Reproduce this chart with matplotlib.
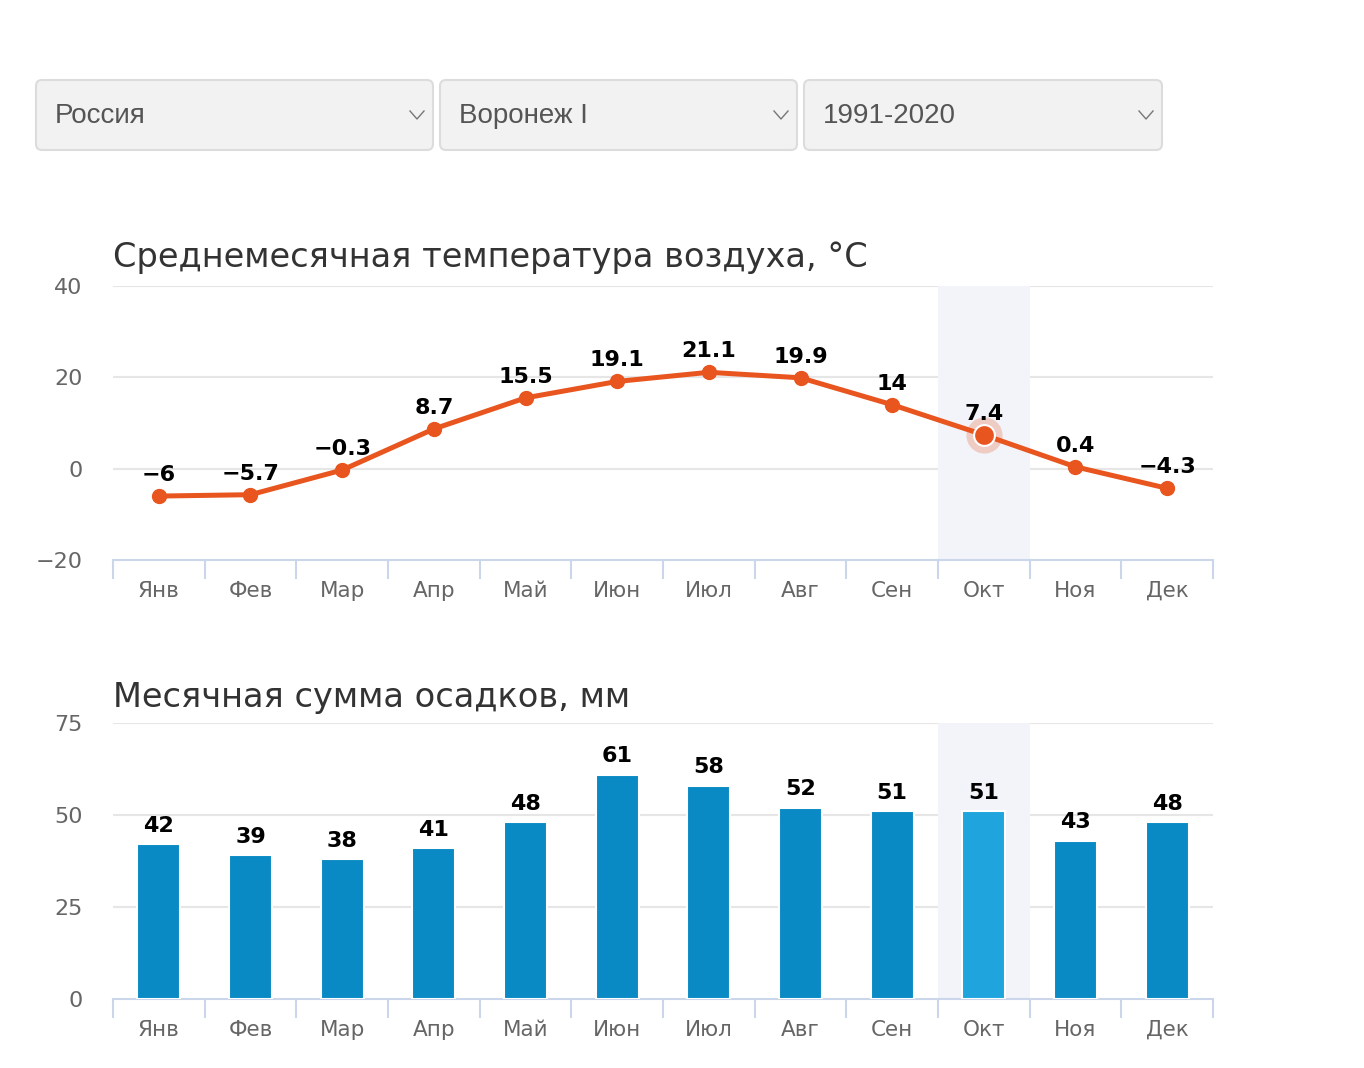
import matplotlib
matplotlib.use('Agg')
import matplotlib.pyplot as plt
from matplotlib.patches import FancyBboxPatch
import numpy as np

# Данные
months = ['Янв', 'Фев', 'Мар', 'Апр', 'Май', 'Июн', 'Июл', 'Авг', 'Сен', 'Окт', 'Ноя', 'Дек']
temp = [-6, -5.7, -0.3, 8.7, 15.5, 19.1, 21.1, 19.9, 14, 7.4, 0.4, -4.3]
precip = [42, 39, 38, 41, 48, 61, 58, 52, 51, 51, 43, 48]
temp_labels = ['−6', '−5.7', '−0.3', '8.7', '15.5', '19.1', '21.1', '19.9', '14', '7.4', '0.4', '−4.3']
dropdowns = ['Россия', 'Воронеж I', '1991-2020']
highlight = 9  # Окт

W, H = 1364, 1068
fig = plt.figure(figsize=(W / 100, H / 100), dpi=100)
fig.patch.set_facecolor('white')

def px_axes(left, top, right, bottom):
    return fig.add_axes([left / W, 1 - bottom / H, (right - left) / W, (bottom - top) / H])

# Фон с выпадающими списками
bg = fig.add_axes([0, 0, 1, 1])
bg.set_xlim(0, W)
bg.set_ylim(H, 0)
bg.axis('off')
boxes = [(36, 433), (440, 797), (804, 1162)]
for (x0, x1), txt in zip(boxes, dropdowns):
    bg.add_patch(FancyBboxPatch((x0, 80), x1 - x0, 70, boxstyle='round,pad=0,rounding_size=6',
                                facecolor='#f2f2f2', edgecolor='#dcdcdc', linewidth=1.5))
    bg.text(x0 + 19, 116, txt, fontsize=20, family='Liberation Sans', color='#555555', va='center')
    cx = x1 - 16
    bg.plot([cx - 7, cx, cx + 7], [111, 119, 111], color='#777777', linewidth=1.0)

line_color = '#e8551f'
grid_color = '#e6e6e6'
axis_color = '#ccd6eb'
band_color = '#f2f4fa'
x = np.arange(len(months))


def style_axes(ax, ymin, ymax, yticks):
    ax.set_xlim(-0.5, 11.5)
    ax.set_ylim(ymin, ymax)
    ax.set_yticks(yticks)
    ax.set_yticklabels([str(t).replace('-', '−') for t in yticks])
    ax.set_xticks(x)
    ax.set_xticklabels(months)
    ax.set_xticks(np.arange(-0.5, 12, 1), minor=True)
    ax.tick_params(axis='x', which='major', length=0, pad=15, labelsize=15.5, labelcolor='#666666')
    ax.tick_params(axis='x', which='minor', length=14, width=1.5, color=axis_color)
    ax.tick_params(axis='y', length=0, pad=22, labelsize=16, labelcolor='#666666')
    for s in ['top', 'right', 'left']:
        ax.spines[s].set_visible(False)
    ax.spines['bottom'].set_color(axis_color)
    ax.spines['bottom'].set_linewidth(1.5)
    for t in yticks[1:]:
        ax.axhline(t, color=grid_color, linewidth=1.5, zorder=0)
    ax.axvspan(highlight - 0.5, highlight + 0.5, color=band_color, zorder=0.5, linewidth=0)
    ax.set_facecolor('none')


# Температура
ax1 = px_axes(113, 286, 1213, 560)
style_axes(ax1, -20, 40, [-20, 0, 20, 40])
ax1.plot(x, temp, color=line_color, linewidth=3.6, zorder=3)
ax1.plot(x, temp, 'o', color=line_color, markersize=10, zorder=4)
ax1.plot(x[highlight], temp[highlight], 'o', color=line_color, markersize=26, alpha=0.25,
         markeredgewidth=0, zorder=4)
ax1.plot(x[highlight], temp[highlight], 'o', color=line_color, markersize=15,
         markeredgecolor='white', markeredgewidth=1.5, zorder=5)
for i, (v, lab) in enumerate(zip(temp, temp_labels)):
    ax1.annotate(lab, (i, v), xytext=(0, 8), textcoords='offset points', ha='center', va='bottom',
                 fontsize=16, fontweight='bold', color='black', zorder=6)
fig.text(113 / W, 1 - 258 / H, 'Среднемесячная температура воздуха, °C', fontsize=24.2,
         color='#333333', va='center', ha='left')

# Осадки
ax2 = px_axes(113, 723, 1213, 999)
style_axes(ax2, 0, 75, [0, 25, 50, 75])
colors = ['#20a4de' if i == highlight else '#0a8ac4' for i in range(len(precip))]
ax2.bar(x, precip, width=0.47, color=colors, edgecolor='white', linewidth=1.5, zorder=3)
for i, v in enumerate(precip):
    ax2.annotate(str(v), (i, v), xytext=(0, 6), textcoords='offset points', ha='center', va='bottom',
                 fontsize=16, fontweight='bold', color='black', zorder=6)
fig.text(113 / W, 1 - 697 / H, 'Месячная сумма осадков, мм', fontsize=24.2,
         color='#333333', va='center', ha='left')

fig.savefig('out.png', dpi=100)
